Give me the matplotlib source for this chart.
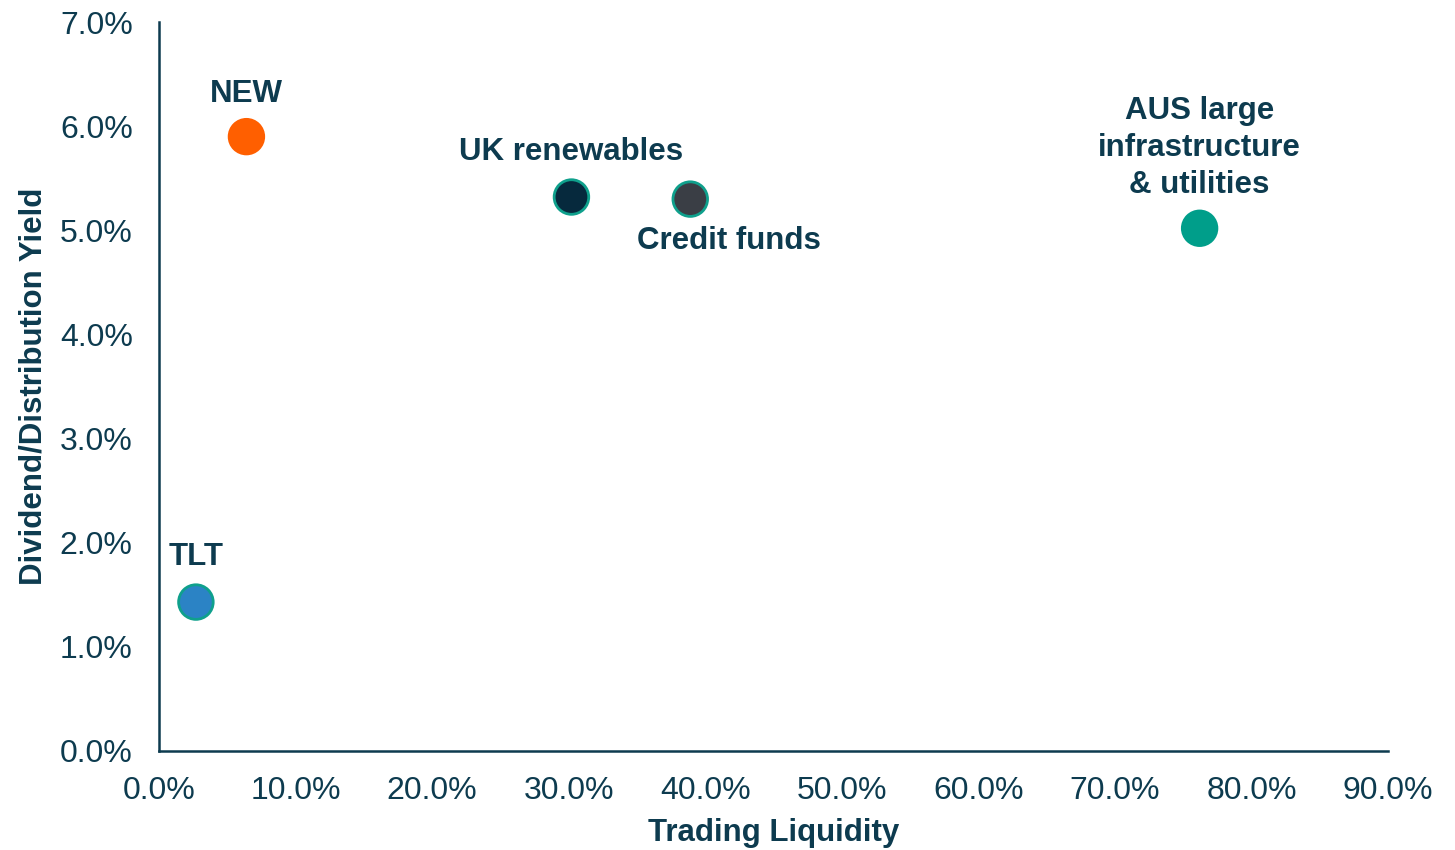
import matplotlib
matplotlib.use("Agg")
from matplotlib import pyplot as plt
from matplotlib.ticker import FuncFormatter

plt.rcParams['font.family'] = ['Liberation Sans', 'DejaVu Sans']

names = ["NEW", "UK renewables", "Credit funds", "AUS large\ninfrastructure\n& utilities", "TLT"]
liquidity = [6.4, 30.2, 38.9, 76.2, 2.7]
yields = [5.90, 5.32, 5.30, 5.02, 1.43]
colors = ["#FF5F00", "#06293D", "#3A3E45", "#009E8A", "#2B83C5"]
edges = ["#FF5F00", "#0FA08C", "#0FA08C", "#009E8A", "#0FA08C"]
# label offsets in pixels from the point
offsets = [(0, 43), (0, 45), (39, -42), (0, 80), (0, 45)]

navy = "#0D3B4F"

fig = plt.figure(figsize=(14.55, 8.5), dpi=100)
ax = fig.add_axes([0.1093, 0.1165, 0.954 - 0.1093, 0.974 - 0.1165])

ax.scatter(liquidity, yields, s=620, c=colors, edgecolors=edges, linewidths=2, zorder=3)

for name, x, y, off in zip(names, liquidity, yields, offsets):
    ax.annotate(name, (x, y), xytext=off, textcoords='offset pixels',
                ha='center', va='center', fontsize=22.5, fontweight='bold',
                color=navy, linespacing=1.3)

ax.set_xlim(0, 90)
ax.set_ylim(0, 7)
ax.set_xticks(range(0, 91, 10))
ax.set_yticks(range(0, 8))
ax.xaxis.set_major_formatter(FuncFormatter(lambda v, p: f"{v:.1f}%"))
ax.yaxis.set_major_formatter(FuncFormatter(lambda v, p: f"{v:.1f}%"))
ax.tick_params(length=0, labelsize=23, labelcolor=navy)
ax.tick_params(axis='x', pad=18)
ax.tick_params(axis='y', pad=19)

for s in ['top', 'right']:
    ax.spines[s].set_visible(False)
for s in ['left', 'bottom']:
    ax.spines[s].set_color(navy)
    ax.spines[s].set_linewidth(1.8)

ax.set_xlabel("Trading Liquidity", fontsize=22.5, fontweight='bold', color=navy, labelpad=9)
ax.set_ylabel("Dividend/Distribution Yield", fontsize=22.5, fontweight='bold', color=navy, labelpad=8)

fig.savefig("out.png", dpi=100)
